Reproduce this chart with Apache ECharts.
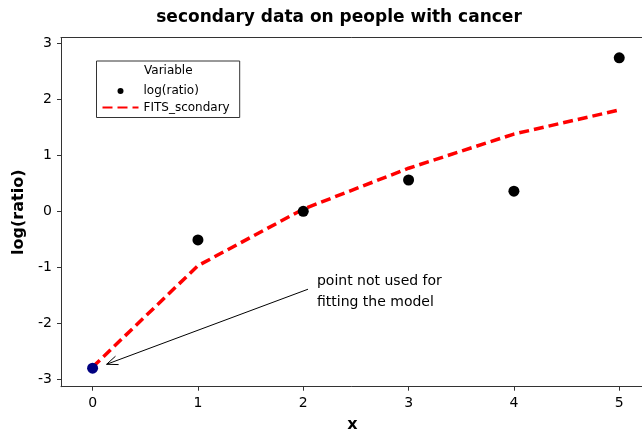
<!DOCTYPE html>
<html>
<head>
<meta charset="utf-8">
<script src="https://cdn.jsdelivr.net/npm/echarts@6/dist/echarts.min.js"></script>
<style>html,body{margin:0;padding:0;background:#fff}#c{width:642px;height:432px}</style>
</head>
<body>
<div id="c"></div>
<script>
const xValues = [0, 1, 2, 3, 4, 5];
const logRatio = [-2.80, -0.51, 0.00, 0.56, 0.36, 2.74];
const fitsSecondary = [-2.78, -0.97, 0.04, 0.77, 1.38, 1.81];
const xTicks = [0, 1, 2, 3, 4, 5];
const yTicks = [-3, -2, -1, 0, 1, 2, 3];
const excludedIndex = 0;
const arrowFrom = [2.045, -1.39];
const arrowTo = [0.133, -2.73];
const noteLines = ['point not used for', 'fitting the model'];
const noteX = 2.13;
const noteY = [-1.25, -1.63];

const FONT = 'DejaVu Sans';
const chart = echarts.init(document.getElementById('c'), null, {renderer: 'canvas'});

const pointData = xValues.map((x, i) => ({
  value: [x, logRatio[i]],
  itemStyle: {color: i === excludedIndex ? '#000080' : '#000000'}
}));
const fitData = xValues.map((x, i) => [x, fitsSecondary[i]]);

chart.setOption({
  animation: false,
  backgroundColor: '#ffffff',
  title: {
    text: 'secondary data on people with cancer',
    left: 334, top: 4, textAlign: 'center',
    textStyle: {fontFamily: FONT, fontWeight: 'bold', fontSize: 17, color: '#000'}
  },
  grid: {left: 61, top: 37.7, right: -2, bottom: 45.3, show: false, containLabel: false, outerBoundsMode: 'none'},
  xAxis: [{
    type: 'value', min: -0.3, max: 5.235,
    name: 'x', nameLocation: 'middle', nameGap: 30,
    nameTextStyle: {fontFamily: FONT, fontWeight: 'bold', fontSize: 16, color: '#000'},
    axisLine: {show: true, onZero: false, lineStyle: {color: '#333'}},
    axisTick: {show: true, length: 4, inside: false, customValues: xTicks, lineStyle: {color: '#333'}},
    axisLabel: {customValues: xTicks, fontFamily: FONT, fontSize: 14, color: '#000', margin: 10},
    splitLine: {show: false}
  }, {
    type: 'value', position: 'top', min: -0.3, max: 5.235,
    axisLine: {show: true, onZero: false, lineStyle: {color: '#333'}},
    axisTick: {show: false}, axisLabel: {show: false}, splitLine: {show: false}
  }],
  yAxis: {
    type: 'value', min: -3.13, max: 3.1,
    name: 'log(ratio)', nameLocation: 'middle', nameGap: 24, nameRotate: 90,
    nameTextStyle: {fontFamily: FONT, fontWeight: 'bold', fontSize: 16, color: '#000'},
    axisLine: {show: true, onZero: false, lineStyle: {color: '#333'}},
    axisTick: {show: true, length: 4, inside: false, customValues: yTicks, lineStyle: {color: '#333'}},
    axisLabel: {customValues: yTicks, fontFamily: FONT, fontSize: 14, color: '#000', margin: 9},
    splitLine: {show: false}
  },
  legend: {
    orient: 'vertical', left: 96.5, top: 61,
    padding: [24, 10, 4, 5],
    itemGap: 4.5, itemWidth: 36, itemHeight: 6, itemTextGap: 7,
    borderColor: '#333', borderWidth: 1,
    textStyle: {fontFamily: FONT, fontSize: 12, color: '#000'},
    data: [
      {name: 'log(ratio)', icon: 'circle', itemStyle: {color: '#000'}},
      {name: 'FITS_scondary', itemStyle: {opacity: 0}}
    ]
  },
  graphic: [{
    type: 'text', left: 144, top: 65,
    style: {text: 'Variable', font: '12px "DejaVu Sans"', fill: '#000'}
  }],
  series: [
    {
      name: 'FITS_scondary', type: 'line', data: fitData, symbol: 'none',
      lineStyle: {color: '#ff0000', width: 3.5, type: [10, 5]},
      itemStyle: {color: '#ff0000'}, z: 2
    },
    {
      name: 'log(ratio)', type: 'scatter', data: pointData, symbolSize: 11, z: 3,
      itemStyle: {color: '#000', opacity: 1}
    },
    {
      type: 'custom', name: 'annotation', silent: true, z: 4,
      data: [[arrowFrom[0], arrowFrom[1], arrowTo[0], arrowTo[1]]],
      renderItem: function (params, api) {
        const p0 = api.coord([api.value(0), api.value(1)]);
        const p1 = api.coord([api.value(2), api.value(3)]);
        const ang = Math.atan2(p1[1] - p0[1], p1[0] - p0[0]);
        const L = 12, a = 0.38;
        const h1x = p1[0] - L * Math.cos(ang - a), h1y = p1[1] - L * Math.sin(ang - a);
        const h2x = p1[0] - L * Math.cos(ang + a), h2y = p1[1] - L * Math.sin(ang + a);
        const st = {stroke: '#000', lineWidth: 1};
        const children = [
          {type: 'line', shape: {x1: p0[0], y1: p0[1], x2: p1[0], y2: p1[1]}, style: st},
          {type: 'line', shape: {x1: h1x, y1: h1y, x2: p1[0], y2: p1[1]}, style: st},
          {type: 'line', shape: {x1: h2x, y1: h2y, x2: p1[0], y2: p1[1]}, style: st}
        ];
        noteLines.forEach((t, k) => {
          const tp = api.coord([noteX, noteY[k]]);
          children.push({type: 'text', x: tp[0], y: tp[1], style: {text: t, font: '14px "DejaVu Sans"', fill: '#000', verticalAlign: 'middle', align: 'left'}});
        });
        return {type: 'group', children: children};
      }
    }
  ]
});
</script>
</body>
</html>
